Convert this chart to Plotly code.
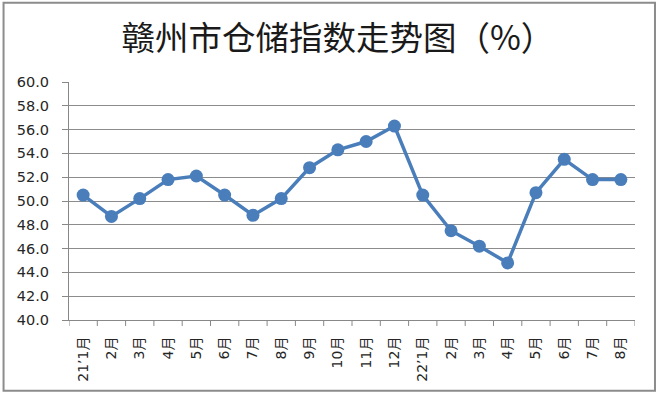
import plotly.graph_objects as go

months = ["21’1月", "2月", "3月", "4月", "5月", "6月", "7月", "8月", "9月", "10月",
          "11月", "12月", "22’1月", "2月", "3月", "4月", "5月", "6月", "7月", "8月"]
cat_ids = list(range(len(months)))
values = [50.5, 48.7, 50.2, 51.8, 52.1, 50.5, 48.8, 50.2, 52.8, 54.3,
          55.0, 56.3, 50.5, 47.5, 46.2, 44.8, 50.7, 53.5, 51.8, 51.8]
title_text = "赣州市仓储指数走势图（%）"

W, H = 658, 397
L, R, T, B = 68.5, 23, 81.5, 77
pw, ph = W - L - R, H - T - B

def px_to_paper_x(px):
    return (px - L) / pw

def px_to_paper_y(py):
    return (H - B - py) / ph

FONT = "DejaVu Sans, Noto Sans CJK SC, sans-serif"

fig = go.Figure()
fig.add_trace(go.Scatter(
    x=cat_ids, y=values, mode="lines+markers",
    line=dict(color="#4A7EBB", width=3.5),
    marker=dict(color="#4A7EBB", size=13),
    cliponaxis=False, showlegend=False, hoverinfo="skip",
))

fig.update_layout(
    width=W, height=H,
    margin=dict(l=L, r=R, t=T, b=B, pad=0),
    paper_bgcolor="white", plot_bgcolor="white",
    font=dict(family=FONT, size=14, color="#262626"),
    title=dict(text=title_text, x=px_to_paper_x(121), xref="paper", xanchor="left",
               y=1 - 38 / H, yanchor="middle",
               font=dict(family="Noto Sans CJK SC, sans-serif", size=33.5, color="#1a1a1a")),
    xaxis=dict(
        type="linear", range=[-0.5, len(months) - 0.5],
        tickmode="array", tickvals=cat_ids, ticktext=months,
        tickangle=-90, showgrid=False, zeroline=False,
        showline=True, linecolor="#888888", linewidth=1,
        ticks="outside", ticklen=10, tickcolor="rgba(0,0,0,0)",
        tickfont=dict(size=14, color="#262626"),
    ),
    yaxis=dict(
        range=[40, 60], dtick=2, tick0=40, tickformat=".1f",
        showgrid=True, gridcolor="#8C8C8C", gridwidth=1,
        showline=True, linecolor="#888888", linewidth=1,
        ticks="outside", ticklen=6, tickcolor="#888888",
        ticklabelstandoff=10,
        zeroline=False, tickfont=dict(size=14.5, color="#262626"),
    ),
)

# category boundary tick marks on the x axis
shapes = []
for i in range(len(months) + 1):
    shapes.append(dict(type="line", xref="x", yref="paper",
                       x0=i - 0.5, x1=i - 0.5, y0=0, y1=px_to_paper_y(H - B + 6),
                       line=dict(color="#888888", width=1)))
# outer chart frame
shapes.append(dict(type="rect", xref="paper", yref="paper",
                   x0=px_to_paper_x(3), x1=px_to_paper_x(655),
                   y0=px_to_paper_y(391), y1=px_to_paper_y(2),
                   line=dict(color="#8C8C8C", width=2), fillcolor="rgba(0,0,0,0)",
                   layer="below"))
fig.update_layout(shapes=shapes)

fig.write_html("out.html", config={"displayModeBar": False},
               post_script="document.body.style.margin='0';document.body.style.overflow='hidden';")
